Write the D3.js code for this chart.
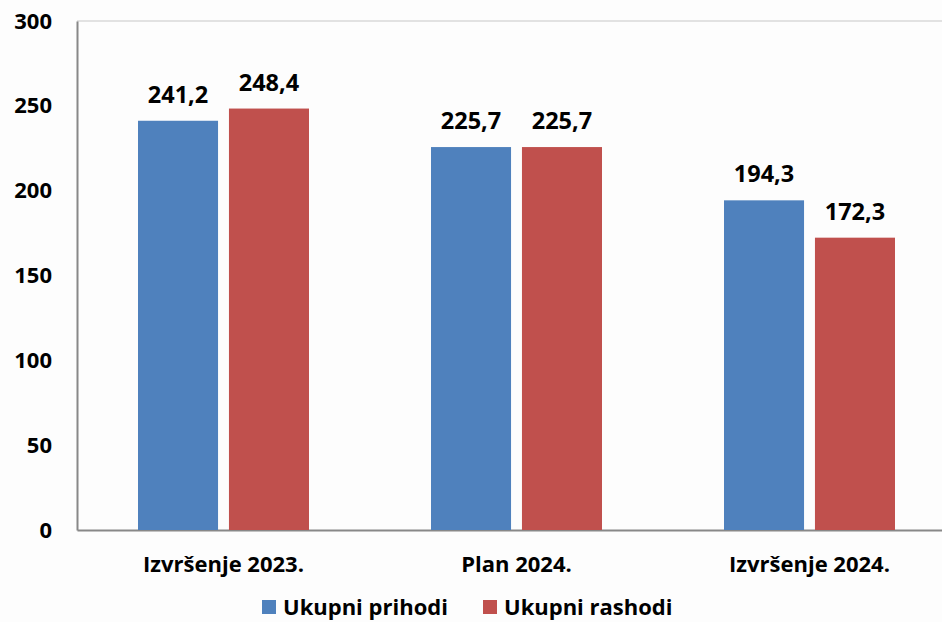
<!DOCTYPE html>
<html>
<head>
<meta charset="utf-8">
<script src="https://cdn.jsdelivr.net/npm/d3@7"></script>
<style>
  body { margin: 0; background: #fdfdfd; }
  svg { display: block; font-family: "Open Sans", sans-serif; font-weight: bold; }
</style>
</head>
<body>
<div id="chart"></div>
<script>
// Data
const categories = ["Izvršenje 2023.", "Plan 2024.", "Izvršenje 2024."];
const seriesNames = ["Ukupni prihodi", "Ukupni rashodi"];
const prihodi = [241.2, 225.7, 194.3];
const rashodi = [248.4, 225.7, 172.3];
const yTicks = [0, 50, 100, 150, 200, 250, 300];
const colors = ["#4f81bd", "#c0504d"];

const width = 942, height = 622;
const margin = { top: 21, right: -14, bottom: 92, left: 77 };
const font = "'Open Sans', sans-serif";

const svg = d3.select("#chart").append("svg")
  .attr("width", width)
  .attr("height", height);

const x = d3.scaleBand()
  .domain(categories)
  .range([margin.left, width - margin.right]);

const xInner = d3.scaleBand()
  .domain(seriesNames)
  .range([0, 171])
  .paddingInner(0.12);

const y = d3.scaleLinear()
  .domain([0, 300])
  .range([height - margin.bottom, margin.top]);

// top border of plot area
svg.append("line")
  .attr("x1", margin.left).attr("x2", width)
  .attr("y1", y(300)).attr("y2", y(300))
  .attr("stroke", "#d9d9d9").attr("stroke-width", 1.5);

// y axis
const yAxis = svg.append("g")
  .attr("transform", `translate(${margin.left},0)`)
  .call(d3.axisLeft(y).tickValues(yTicks).tickSize(0).tickPadding(25));
yAxis.select(".domain").attr("stroke", "#888").attr("stroke-width", 2);
yAxis.selectAll("text").attr("font-size", 22).attr("font-family", font)
  .attr("font-weight", "bold").attr("fill", "#000");

// x axis
const xAxis = svg.append("g")
  .attr("transform", `translate(0,${y(0)})`)
  .call(d3.axisBottom(x).tickSize(0).tickPadding(26));
xAxis.select(".domain").attr("stroke", "#888").attr("stroke-width", 2);
xAxis.selectAll("text").attr("font-size", 22).attr("font-family", font)
  .attr("font-weight", "bold").attr("fill", "#000");

const rows = categories.map((c, i) => ({ cat: c, values: [prihodi[i], rashodi[i]] }));

const groups = svg.append("g").selectAll("g")
  .data(rows)
  .join("g")
  .attr("transform", d => `translate(${x(d.cat) + (x.bandwidth() - 171) / 2},0)`);

groups.selectAll("rect")
  .data(d => d.values.map((v, j) => ({ name: seriesNames[j], v, j })))
  .join("rect")
  .attr("x", d => xInner(d.name))
  .attr("width", xInner.bandwidth())
  .attr("y", d => y(d.v))
  .attr("height", d => y(0) - y(d.v))
  .attr("fill", d => colors[d.j]);

groups.selectAll("text.val")
  .data(d => d.values.map((v, j) => ({ name: seriesNames[j], v, j })))
  .join("text")
  .attr("class", "val")
  .attr("x", d => xInner(d.name) + xInner.bandwidth() / 2)
  .attr("y", d => y(d.v) - 18)
  .attr("text-anchor", "middle")
  .attr("font-size", 23.5)
  .text(d => d3.format(".1f")(d.v).replace(".", ","));

// legend
const legendX = [262, 483];
const legend = svg.append("g").selectAll("g")
  .data(seriesNames)
  .join("g")
  .attr("transform", (d, i) => `translate(${legendX[i]},600)`);
legend.append("rect")
  .attr("width", 14).attr("height", 14)
  .attr("fill", (d, i) => colors[i]);
legend.append("text")
  .attr("x", 21).attr("y", 15)
  .attr("font-size", 22)
  .text(d => d);
</script>
</body>
</html>
